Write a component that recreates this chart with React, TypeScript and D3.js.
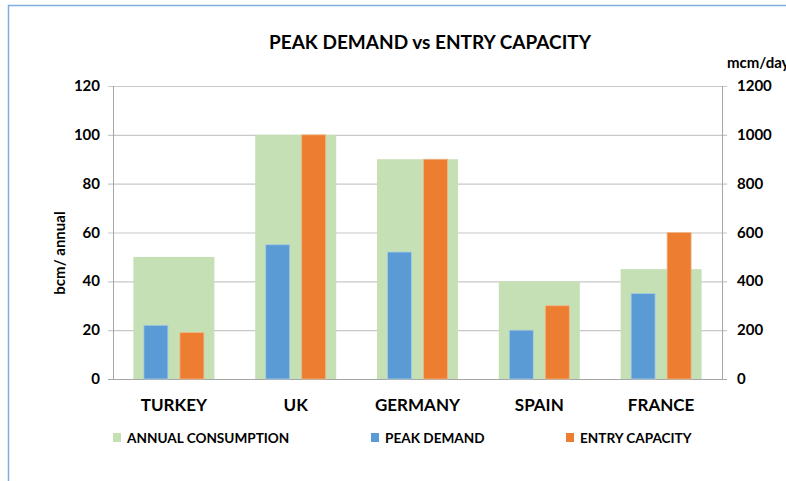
import React from "react";
import * as d3 from "d3";

const categories = ["TURKEY", "UK", "GERMANY", "SPAIN", "FRANCE"];
const annualConsumption = [50, 100, 90, 40, 45];
const peakDemand = [220, 550, 520, 200, 350];
const entryCapacity = [190, 1000, 900, 300, 600];
const leftTicks = [0, 20, 40, 60, 80, 100, 120];
const rightTicks = [0, 200, 400, 600, 800, 1000, 1200];
const seriesNames = ["ANNUAL CONSUMPTION", "PEAK DEMAND", "ENTRY CAPACITY"];
const colors = ["#c5e0b4", "#5b9bd5", "#ed7d31"];

const FONT = "Lato, 'Liberation Sans', sans-serif";

export default function App() {
  const W = 786, H = 481;
  const left = 113, right = 722, top = 86, bottom = 379;
  const x = d3.scaleBand<string>().domain(categories).range([left, right]).paddingInner(0).paddingOuter(0);
  const yL = d3.scaleLinear().domain([0, 120]).range([bottom, top]);
  const yR = d3.scaleLinear().domain([0, 1200]).range([bottom, top]);
  const bw = x.bandwidth();
  const greenW = bw * 0.665;
  const barW = 24, gap = 12;

  return (
    <svg width={W} height={H} style={{ position: "absolute", left: 0, top: 0, background: "#fff" }} fontFamily={FONT}>
      <rect x={0} y={0} width={W} height={H} fill="#fff" />
      <path d={`M8.5,${H} V5.5 H${W}`} fill="none" stroke="#7fadde" strokeWidth={1.5} />
      <text x={430} y={49} textAnchor="middle" fontSize={19} fontWeight="bold" fill="#000">
        PEAK DEMAND vs ENTRY CAPACITY
      </text>
      {/* gridlines */}
      {leftTicks.map((t) => (
        <line key={"g" + t} x1={left - 5} x2={right + 5} y1={yL(t) + 0.5} y2={yL(t) + 0.5}
          stroke={t === 0 ? "#a6a6a6" : "#c8c8c8"} strokeWidth={1.2} />
      ))}
      <line x1={left + 0.5} x2={left + 0.5} y1={top} y2={bottom} stroke="#a6a6a6" />
      <line x1={right + 0.5} x2={right + 0.5} y1={top} y2={bottom} stroke="#a6a6a6" />
      {/* bars */}
      {categories.map((c, i) => {
        const cx = (x(c) as number) + bw / 2;
        return (
          <g key={c}>
            <rect x={cx - greenW / 2} y={yL(annualConsumption[i])} width={greenW}
              height={bottom - yL(annualConsumption[i])} fill={colors[0]} />
            <rect x={cx - gap / 2 - barW} y={yR(peakDemand[i])} width={barW}
              height={bottom - yR(peakDemand[i])} fill={colors[1]} stroke="#a9cde0" strokeWidth={0.8} />
            <rect x={cx + gap / 2} y={yR(entryCapacity[i])} width={barW}
              height={bottom - yR(entryCapacity[i])} fill={colors[2]} stroke="#efb98a" strokeWidth={0.8} />
          </g>
        );
      })}
      {/* axis labels */}
      {leftTicks.map((t) => (
        <text key={"l" + t} x={100} y={yL(t) + 5} textAnchor="end" fontSize={15} fontWeight="bold" fill="#000">{t}</text>
      ))}
      {rightTicks.map((t) => (
        <text key={"r" + t} x={737} y={yR(t) + 5} textAnchor="start" fontSize={15} fontWeight="bold" fill="#000">{t}</text>
      ))}
      <text x={727} y={68} fontSize={15} fontWeight="bold" fill="#000">mcm/day</text>
      <text transform={`translate(65,253) rotate(-90)`} textAnchor="middle" fontSize={15} fontWeight="bold" fill="#000">bcm/ annual</text>
      {categories.map((c) => (
        <text key={"c" + c} x={(x(c) as number) + bw / 2} y={411} textAnchor="middle" fontSize={17} fontWeight="bold" fill="#000">{c}</text>
      ))}
      {/* legend */}
      {[{ sx: 113, tx: 127 }, { sx: 371, tx: 385 }, { sx: 566, tx: 580 }].map((p, i) => (
        <g key={"lg" + i}>
          <rect x={p.sx} y={433} width={8} height={9} fill={colors[i]} />
          <text x={p.tx} y={443} fontSize={13.6} fontWeight="bold" fill="#000">{seriesNames[i]}</text>
        </g>
      ))}
    </svg>
  );
}
